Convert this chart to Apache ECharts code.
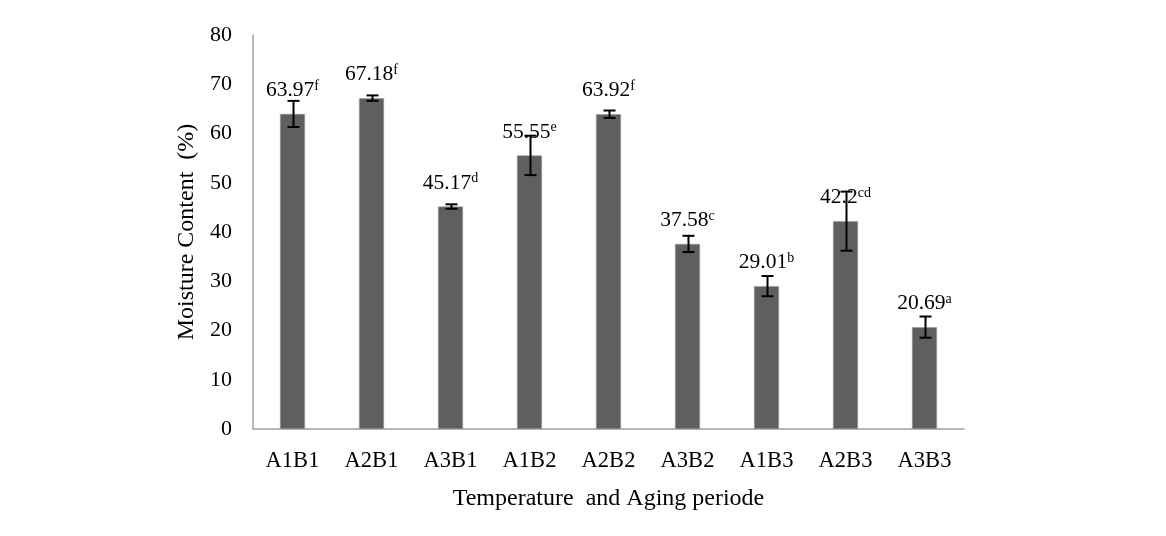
<!DOCTYPE html>
<html><head><meta charset="utf-8">
<script src="https://cdn.jsdelivr.net/npm/echarts@6/dist/echarts.min.js"></script>
<style>html,body{margin:0;padding:0;background:#fff}#c{width:1166px;height:536px}</style>
</head><body><div id="c"></div>
<script>
const categories = ['A1B1','A2B1','A3B1','A1B2','A2B2','A3B2','A1B3','A2B3','A3B3'];
const values = [63.97, 67.18, 45.17, 55.55, 63.92, 37.58, 29.01, 42.2, 20.69];
const labels = ['63.97','67.18','45.17','55.55','63.92','37.58','29.01','42.2','20.69'];
const letters = ['f','f','d','e','f','c','b','cd','a'];
const errors = [2.65, 0.55, 0.45, 4.0, 0.75, 1.65, 2.05, 6.0, 2.15];
const yTicks = [0, 10, 20, 30, 40, 50, 60, 70, 80];

const font = 'Liberation Serif';
const chart = echarts.init(document.getElementById('c'), null, {renderer:'canvas'});
chart.setOption({
  animation:false,
  grid:{left:253, right:202, top:35, bottom:107},
  xAxis:{type:'category', data:categories,
    axisLine:{lineStyle:{color:'#a0a0a0', width:1.5}}, axisTick:{show:false},
    axisLabel:{fontFamily:font, fontSize:22.5, color:'#000', margin:21},
    name:'Temperature  and Aging periode', nameLocation:'middle', nameGap:58,
    nameTextStyle:{fontFamily:font, fontSize:24, color:'#000'}},
  yAxis:{type:'value', min:yTicks[0], max:yTicks[yTicks.length-1], interval:10,
    axisLine:{show:true, lineStyle:{color:'#a0a0a0', width:1.5}}, axisTick:{show:false},
    splitLine:{show:false},
    axisLabel:{fontFamily:font, fontSize:22, color:'#000', margin:21},
    name:'Moisture Content  (%)', nameLocation:'middle', nameGap:51, nameRotate:90,
    nameTextStyle:{fontFamily:font, fontSize:24, color:'#000'}},
  series:[
    {type:'bar', data:values.map((v,i)=>({value:v, label:{formatter:'{n|'+labels[i]+'}{s|'+letters[i]+'}'}})),
      barWidth:25,
      itemStyle:{color:'#5f5f5f', borderColor:'#9a9a9a', borderWidth:0.6},
      label:{show:true, position:'top', distance:12,
        rich:{n:{fontFamily:font, fontSize:21.5, color:'#000'},
              s:{fontFamily:font, fontSize:14, color:'#000', verticalAlign:'top', padding:[0,0,9,0]}}}},
    {type:'custom', data:values.map((v,i)=>[i, v, errors[i]]),
      renderItem:function(params, api){
        const x = api.value(0), v = api.value(1), e = api.value(2);
        const top = api.coord([x, v+e]), bot = api.coord([x, v-e]);
        const cx = top[0] + 1, hw = 6;
        const st = {stroke:'#000', lineWidth:2};
        return {type:'group', children:[
          {type:'line', shape:{x1:cx, y1:top[1], x2:cx, y2:bot[1]}, style:st},
          {type:'line', shape:{x1:cx-hw, y1:top[1], x2:cx+hw, y2:top[1]}, style:st},
          {type:'line', shape:{x1:cx-hw, y1:bot[1], x2:cx+hw, y2:bot[1]}, style:st}
        ]};
      }, z:5}
  ]
});
</script></body></html>
